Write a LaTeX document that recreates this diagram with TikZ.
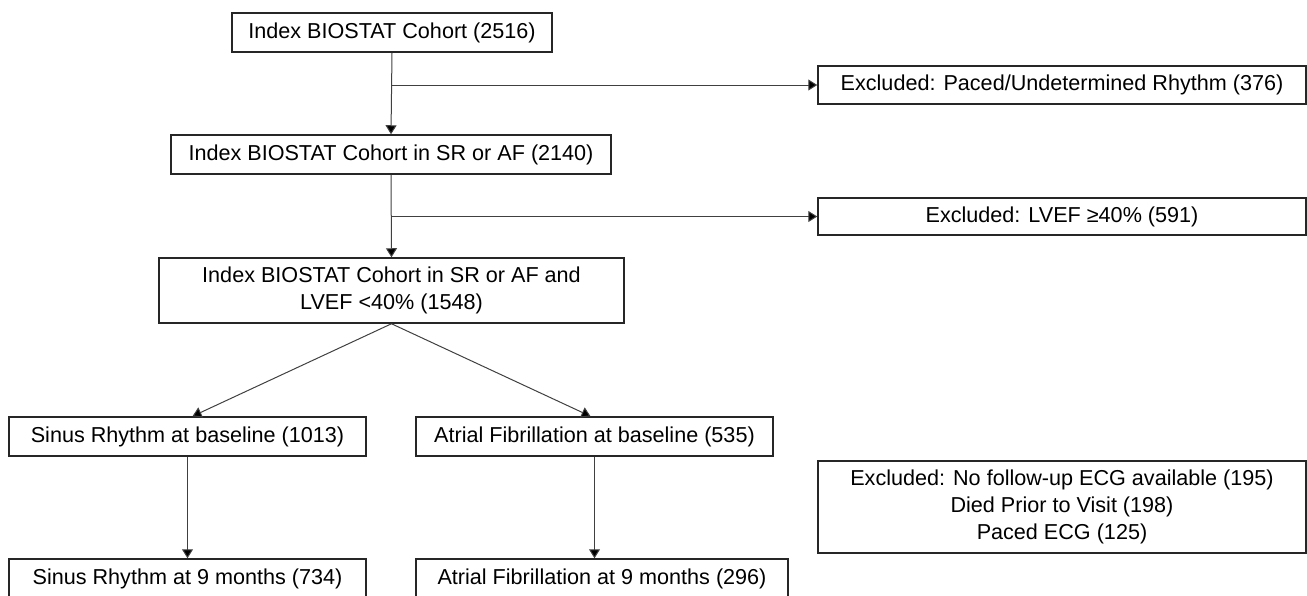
\documentclass[tikz,border=0pt]{standalone}
\usepackage{fontspec}
\setmainfont{Liberation Sans}
\usetikzlibrary{arrows.meta,calc}

\begin{document}
\begin{tikzpicture}[x=0.5pt, y=-0.5pt, font=\fontsize{10.8}{13.5}\selectfont]
  \tikzstyle{box}=[draw=black!85, line width=0.75pt, rectangle, inner sep=0pt, align=center]
  \tikzstyle{dir_edge} = [draw, black!75, line width=0.5pt, -{Triangle[length=4.5pt,width=5.5pt,fill=black]}]

  \useasboundingbox (0,0) rectangle (1307,595);

  % box centres
  \coordinate(A) at (392, 32.5);
  \coordinate(B) at (391, 154.5);
  \coordinate(C) at (391.5, 290.5);
  \coordinate(D) at (187.5, 436.5);
  \coordinate(E) at (594.5, 436.5);
  \coordinate(F) at (187.5, 578.5);
  \coordinate(G) at (602, 578.5);
  \coordinate(X) at (1062, 85);
  \coordinate(Y) at (1062, 216.5);
  \coordinate(Z) at (1062, 507);

  % Draw the boxes
  \foreach \pos/\name/\bw/\bh/\txt in
    {
      {(A)/cohort/320/39/Index BIOSTAT Cohort (2516)},
      {(B)/srafc/440/39/Index BIOSTAT Cohort in SR or AF (2140)},
      {(C)/lvef/465/65/{Index BIOSTAT Cohort in SR or AF and\\LVEF <40\% (1548)}},
      {(D)/srb/357/39/Sinus Rhythm at baseline (1013)},
      {(E)/afb/357/39/Atrial Fibrillation at baseline (535)},
      {(F)/srnine/357/39/Sinus Rhythm at 9 months (734)},
      {(G)/afnine/372/39/Atrial Fibrillation at 9 months (296)},
      {(X)/exclA/488/38/{Excluded: Paced/Undetermined Rhythm (376)}},
      {(Y)/exclB/488/37/Excluded: LVEF ≥40\% (591)},
      {(Z)/exclC/488/92/{Excluded: No follow-up ECG available (195)\\Died Prior to Visit (198)\\Paced ECG (125)}}%
    }
    \node[box, minimum width=\bw*0.5pt, minimum height=\bh*0.5pt] (\name) at \pos {\txt};

  % Connect boxes with arrows
  \foreach \source/ \dest in
    {
      cohort/srafc,
      srafc/lvef,
      srb/srnine%
    }
    \path[dir_edge] (\source.south) -- (\dest.north);

  % the split below the third box
  \path[dir_edge] (lvef.south) -- ($(srb.north)+(5,0)$);
  \path[dir_edge] (lvef.south) -- ($(afb.north)+(-4,0)$);

  \path[dir_edge] (afb.south) -- (afb.south |- afnine.north);
  \path[dir_edge] (cohort.south |- exclA.west) -- (exclA.west);
  \path[dir_edge] (srafc.south |- exclB.west) -- (exclB.west);

\end{tikzpicture}
\end{document}
